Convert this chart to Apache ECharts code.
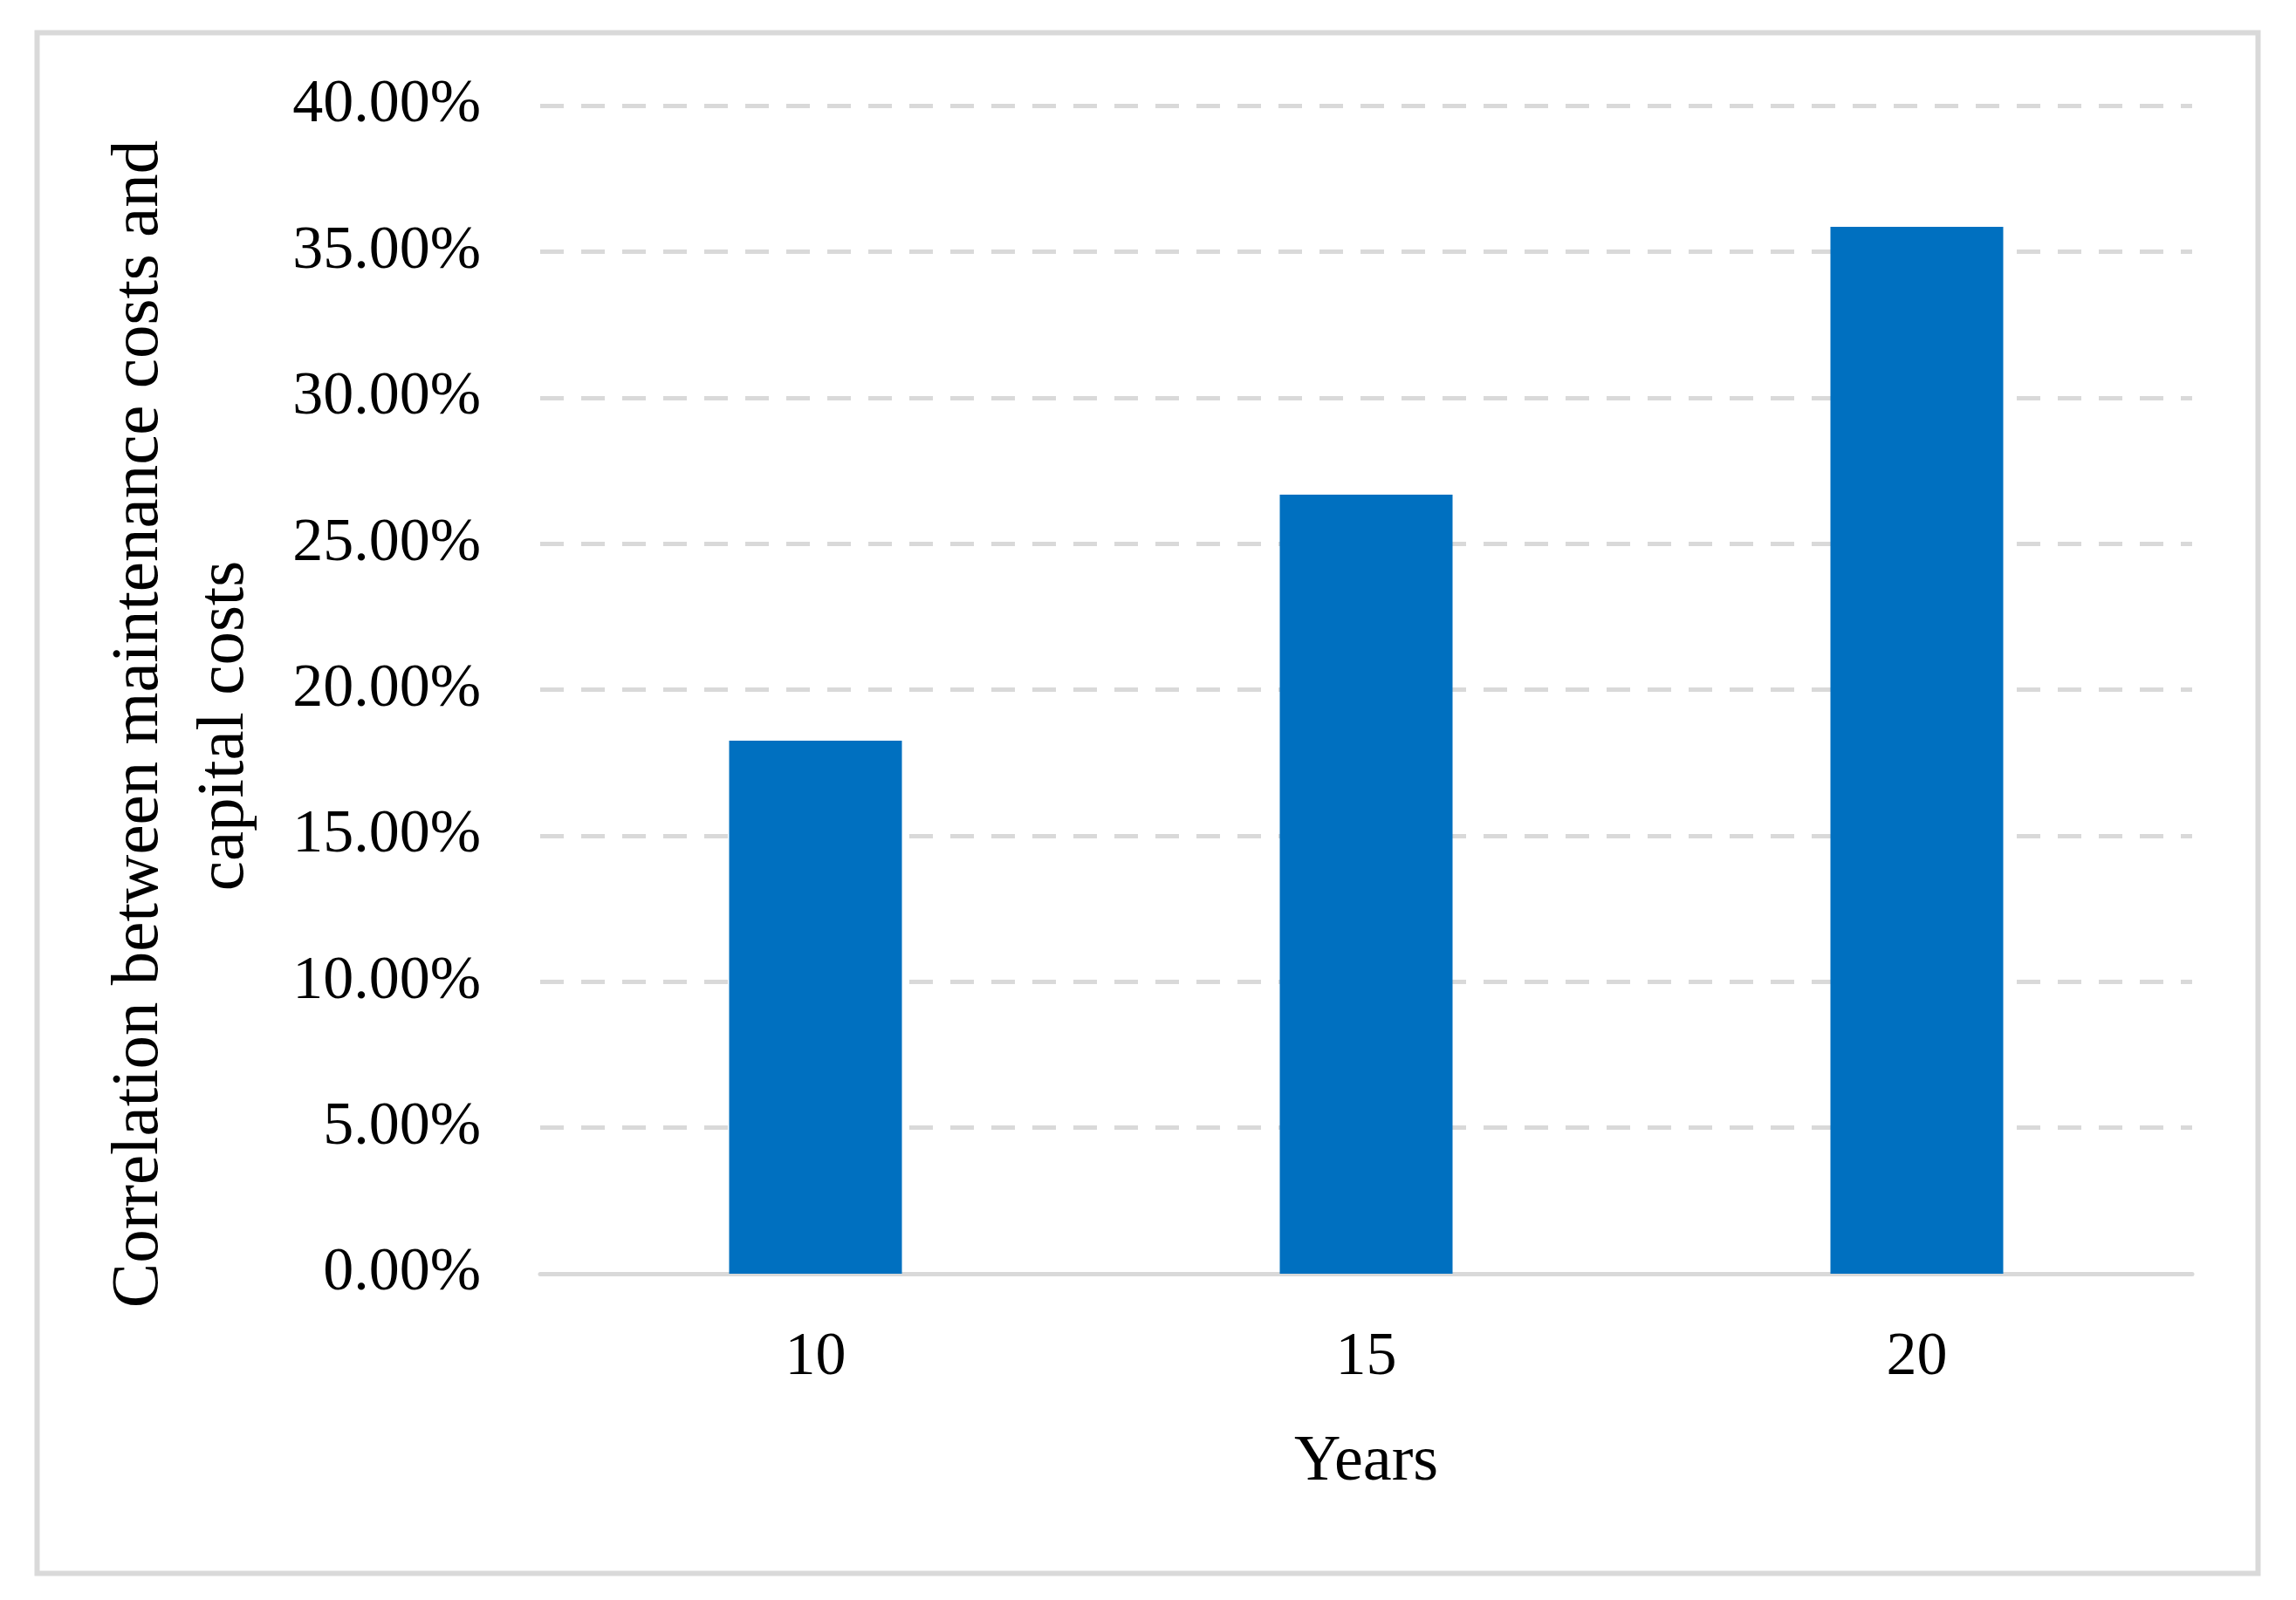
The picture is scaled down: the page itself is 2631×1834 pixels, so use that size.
<!DOCTYPE html>
<html><head><meta charset="utf-8">
<script src="https://cdn.jsdelivr.net/npm/echarts@6/dist/echarts.min.js"></script>
<style>html,body{margin:0;padding:0;background:#fff}#c{width:2631px;height:1834px}</style>
</head><body><div id="c"></div>
<script>
const categories = ['10', '15', '20'];
const values = [18.25, 26.68, 35.85];
const yTicks = [0, 5, 10, 15, 20, 25, 30, 35, 40];
const yTitleLines = ['Correlation between maintenance costs and', 'capital costs'];
const xTitle = 'Years';

const FONT = '"Liberation Serif", "DejaVu Serif", serif';
const chart = echarts.init(document.getElementById('c'), null, {renderer: 'canvas'});
chart.setOption({
  animation: false,
  backgroundColor: '#fff',
  grid: {left: 619, right: 2631 - 2512, top: 121, bottom: 1834 - 1460, containLabel: false},
  xAxis: {
    type: 'category', data: categories,
    axisLine: {lineStyle: {color: '#d9d9d9', width: 5}},
    axisTick: {show: false},
    axisLabel: {color: '#000', fontFamily: FONT, fontSize: 70, margin: 62},
    name: xTitle, nameLocation: 'middle', nameGap: 180,
    nameTextStyle: {color: '#000', fontFamily: FONT, fontSize: 74}
  },
  yAxis: {
    type: 'value', min: yTicks[0], max: yTicks[yTicks.length - 1], interval: 5,
    axisLine: {show: false}, axisTick: {show: false},
    axisLabel: {color: '#000', fontFamily: FONT, fontSize: 70, margin: 68,
      formatter: v => v.toFixed(2) + '%'},
    splitLine: {lineStyle: {color: '#d9d9d9', width: 5, type: [27, 20]}}
  },
  series: [{
    type: 'bar', data: values, barWidth: 198,
    itemStyle: {color: '#0070c0'}
  }],
  graphic: [
    {type: 'rect', shape: {x: 42.5, y: 37.5, width: 2545, height: 1766},
     style: {fill: 'none', stroke: '#d9d9d9', lineWidth: 6}, silent: true},
    {type: 'text', x: 160, y: 830, rotation: Math.PI / 2,
     style: {text: yTitleLines[0], fontFamily: FONT, fontSize: 77, fill: '#000',
       align: 'center', verticalAlign: 'middle'}},
    {type: 'text', x: 258, y: 832, rotation: Math.PI / 2,
     style: {text: yTitleLines[1], fontFamily: FONT, fontSize: 77, fill: '#000',
       align: 'center', verticalAlign: 'middle'}}
  ]
});
</script></body></html>
